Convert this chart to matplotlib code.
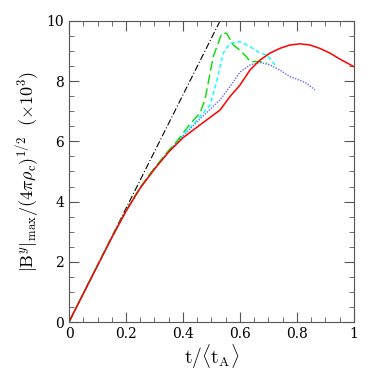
import numpy as np
import matplotlib.pyplot as plt
from matplotlib.ticker import MultipleLocator

plt.rcParams['mathtext.fontset'] = 'cm'
plt.rcParams['font.family'] = 'DejaVu Serif'

# ─── Dados ────────────────────────────────────────────────────────────────
t_lin = [0.0, 0.53]
b_lin = [0.0, 10.0]

t_red = [0.0, 0.05, 0.1, 0.15, 0.2, 0.25, 0.3, 0.35, 0.4, 0.46, 0.53,
         0.565, 0.6, 0.635, 0.67, 0.705, 0.74, 0.775, 0.81, 0.846, 0.88,
         0.916, 0.951, 1.0]
b_red = [0.0, 0.94, 1.87, 2.8, 3.68, 4.45, 5.08, 5.65, 6.12, 6.55, 7.04,
         7.49, 7.87, 8.37, 8.7, 8.93, 9.09, 9.2, 9.24, 9.2, 9.09,
         8.93, 8.73, 8.48]

t_green = [0.0, 0.05, 0.1, 0.15, 0.2, 0.25, 0.3, 0.35, 0.38, 0.42, 0.46,
           0.477, 0.506, 0.536, 0.553, 0.577, 0.593, 0.623, 0.635, 0.67, 0.694]
b_green = [0.0, 0.94, 1.88, 2.82, 3.7, 4.48, 5.12, 5.7, 6.02, 6.52, 6.95,
           7.38, 8.81, 9.59, 9.59, 9.2, 9.08, 8.81, 8.65, 8.65, 8.6]

t_cyan = [0.0, 0.05, 0.1, 0.15, 0.2, 0.25, 0.3, 0.35, 0.4, 0.46, 0.495,
          0.518, 0.541, 0.565, 0.6, 0.635, 0.67, 0.694, 0.723]
b_cyan = [0.0, 0.94, 1.87, 2.81, 3.69, 4.46, 5.1, 5.68, 6.2, 6.82, 7.21,
          7.98, 8.93, 9.26, 9.31, 9.15, 8.93, 8.87, 8.54]

t_blue = [0.0, 0.05, 0.1, 0.15, 0.2, 0.25, 0.3, 0.35, 0.4, 0.46, 0.53,
          0.565, 0.6, 0.635, 0.67, 0.705, 0.74, 0.775, 0.81, 0.834, 0.863]
b_blue = [0.0, 0.94, 1.87, 2.81, 3.69, 4.46, 5.1, 5.67, 6.18, 6.75, 7.38,
          7.82, 8.3, 8.54, 8.62, 8.54, 8.37, 8.15, 8.03, 7.93, 7.71]

x_ticks = [0, 0.2, 0.4, 0.6, 0.8, 1.0]
x_labels = ['0', '0.2', '0.4', '0.6', '0.8', '1']
y_ticks = [0, 2, 4, 6, 8, 10]
y_labels = ['0', '2', '4', '6', '8', '10']

fig = plt.figure(figsize=(3.74, 3.74), dpi=100)
ax = fig.add_axes([0.1845, 0.139, 0.762, 0.805])

ax.plot(t_lin, b_lin, color='black', lw=0.8, ls=(0, (6, 2, 1, 2)))
ax.plot(t_blue, b_blue, color='#6666ff', lw=1.0, ls=(0, (1, 1)))
ax.plot(t_cyan, b_cyan, color='cyan', lw=1.0, ls=(0, (3, 2)))
ax.plot(t_green, b_green, color='#00dd00', lw=1.0, ls=(0, (7, 3)))
ax.plot(t_red, b_red, color='red', lw=1.1)

ax.set_xlim(0, 1)
ax.set_ylim(0, 10)
ax.set_xticks(x_ticks)
ax.set_xticklabels(x_labels)
ax.set_yticks(y_ticks)
ax.set_yticklabels(y_labels)
ax.xaxis.set_minor_locator(MultipleLocator(0.05))
ax.yaxis.set_minor_locator(MultipleLocator(0.5))
ax.tick_params(which='both', direction='in', top=True, right=True,
               labelsize=10, color='#555555')
ax.tick_params(which='major', length=7)
ax.tick_params(which='minor', length=3.5)
for s in ax.spines.values():
    s.set_color('#555555')
    s.set_linewidth(0.8)

ax.set_xlabel(r'$\mathrm{t}/\langle \mathrm{t_A}\rangle$', fontsize=14, labelpad=1)
ax.set_ylabel(r'$|\mathrm{B}^y|_{\max}/(4\pi\rho_{\mathrm{c}})^{1/2}\ \ (\times10^3)$',
              fontsize=13, labelpad=3)

plt.savefig('out.png', dpi=100)
